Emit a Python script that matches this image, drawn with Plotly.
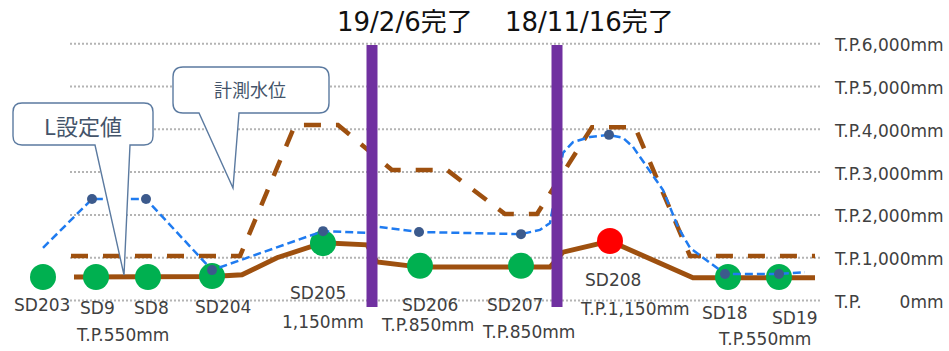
import plotly.graph_objects as go

# ---------------- data ----------------
stations = ["SD203", "SD9", "SD8", "SD204", "SD205", "SD206", "SD207", "SD208", "SD18", "SD19"]
station_x = [43, 96, 148, 212, 323, 420, 521, 610, 728, 779]
station_level = [550, 550, 550, 570, 1340, 810, 810, 1390, 550, 550]
station_alert = [False, False, False, False, False, False, False, True, False, False]

# L設定値 (solid brown)
l_x = [74, 96, 148, 212, 242, 277, 323, 367, 377, 420, 520, 550, 563, 610, 693, 728, 779, 815]
l_val = [550, 550, 550, 560, 600, 1000, 1350, 1300, 900, 780, 780, 780, 1130, 1390, 530, 530, 530, 530]

# dashed brown line
d_x = [71, 240, 295, 338, 392, 447, 505, 537, 592, 635, 690, 815]
d_val = [1040, 1040, 4100, 4100, 3050, 3050, 2020, 2020, 4050, 4050, 1040, 1040]

# 計測水位 (blue dotted)
w_x = [43, 92, 146, 212, 323, 367, 378, 419, 521, 540, 550, 563, 573, 590, 609,
       623, 633, 647, 663, 678, 690, 725, 779, 805]
w_val = [1230, 2370, 2370, 710, 1620, 1580, 1720, 1600, 1550, 1650, 1810, 3450, 3700, 3820, 3870,
         3800, 3590, 3120, 2580, 1720, 1230, 620, 620, 660]
w_mark_x = [92, 146, 212, 323, 419, 521, 609, 725, 779]
w_mark_val = [2370, 2370, 710, 1620, 1600, 1550, 3870, 620, 620]

# completion markers
completion_x = [372, 557]
completion_text = ["19/2/6完了", "18/11/16完了"]

# y ticks
tick_vals = [0, 1000, 2000, 3000, 4000, 5000, 6000]
tick_text = ["T.P.\u00a0\u00a0\u00a0\u00a0\u00a0\u00a0\u00a00mm", "T.P.1,000mm", "T.P.2,000mm",
             "T.P.3,000mm", "T.P.4,000mm", "T.P.5,000mm", "T.P.6,000mm"]

# elevation notes
note_text = ["T.P.550mm", "1,150mm", "T.P.850mm", "T.P.850mm", "T.P.1,150mm", "T.P.550mm"]

# ---------------- layout constants ----------------
W, H = 949, 351
Y0_PX = 300.5          # pixel row of 0 mm
PX_PER_MM = 0.0428
y_range = [(Y0_PX - H) / PX_PER_MM, Y0_PX / PX_PER_MM]
GRID_X0, GRID_X1 = 70, 820

station_label_pos = [(42, 305), (97, 308), (151, 308), (223, 307), (318, 293),
                     (430, 305), (515, 305), (613, 280), (725, 313), (795, 318)]
note_pos = [(122, 335), (323, 322), (427, 325), (528, 332), (635, 309), (764, 339)]

BROWN = "#9E500F"
BLUE = "#1F7BF0"
BLUE_DARK = "#3C5A8C"
FONT = "DejaVu Sans, Noto Sans CJK JP, sans-serif"
CJK = "Noto Sans CJK JP, DejaVu Sans, sans-serif"


def py(ypx):
    return 1 - ypx / H


fig = go.Figure()

fig.add_trace(go.Scatter(x=l_x, y=l_val, mode="lines", name="L設定値",
                         line=dict(color=BROWN, width=5), hoverinfo="skip"))
fig.add_trace(go.Scatter(x=d_x, y=d_val, mode="lines", name="dashed",
                         line=dict(color=BROWN, width=4.5, dash="17px,15px"), hoverinfo="skip"))
fig.add_trace(go.Scatter(x=station_x, y=station_level, mode="markers", name="stations",
                         marker=dict(size=26, color=["#FF0000" if a else "#00B050" for a in station_alert],
                                     line=dict(width=0)),
                         cliponaxis=False, hoverinfo="skip"))
fig.add_trace(go.Scatter(x=w_x, y=w_val, mode="lines", name="計測水位",
                         line=dict(color=BLUE, width=2.5, dash="8px,4px"), hoverinfo="skip"))
fig.add_trace(go.Scatter(x=w_mark_x, y=w_mark_val, mode="markers", name="計測点",
                         marker=dict(size=10, color=BLUE_DARK), hoverinfo="skip"))

shapes = []
# gridlines
for v in tick_vals:
    shapes.append(dict(type="line", xref="x", yref="y", x0=GRID_X0, x1=GRID_X1, y0=v, y1=v,
                       line=dict(color="#B4B4B4", width=2, dash="2px,2px"), layer="below"))
# completion bars
for cx in completion_x:
    shapes.append(dict(type="rect", xref="x", yref="y", x0=cx - 5.5, x1=cx + 5.5,
                       y0=-150, y1=tick_vals[-1] - 30, fillcolor="#7030A0",
                       line=dict(width=0), layer="above"))


def callout(x0, y0, x1, y1, r, tl, tr, tip):
    pts = [
        f"M {x0 + r},{py(y0)}", f"L {x1 - r},{py(y0)}", f"Q {x1},{py(y0)} {x1},{py(y0 + r)}",
        f"L {x1},{py(y1 - r)}", f"Q {x1},{py(y1)} {x1 - r},{py(y1)}",
        f"L {tr},{py(y1)}", f"L {tip[0]},{py(tip[1])}", f"L {tl},{py(y1)}",
        f"L {x0 + r},{py(y1)}", f"Q {x0},{py(y1)} {x0},{py(y1 - r)}",
        f"L {x0},{py(y0 + r)}", f"Q {x0},{py(y0)} {x0 + r},{py(y0)}", "Z",
    ]
    return dict(type="path", xref="x", yref="paper", path=" ".join(pts),
                fillcolor="white", line=dict(color="#5B7AA0", width=1.4), layer="above")


shapes.append(callout(13, 103, 153, 145, 9, 95, 130, (124, 275)))
shapes.append(callout(173, 67, 329, 113, 10, 199, 239, (233, 188)))

ann = []
for name, (lx, ly) in zip(stations, station_label_pos):
    ann.append(dict(x=lx, y=py(ly), xref="x", yref="paper", text=name, showarrow=False,
                    font=dict(family=FONT, size=17, color="#404040"), xanchor="center", yanchor="middle"))
for t, (lx, ly) in zip(note_text, note_pos):
    ann.append(dict(x=lx, y=py(ly), xref="x", yref="paper", text=t, showarrow=False,
                    font=dict(family=FONT, size=17, color="#404040"), xanchor="center", yanchor="middle"))
for v, t in zip(tick_vals, tick_text):
    ann.append(dict(x=832, y=v, xref="x", yref="y", text=t, showarrow=False, yshift=-1.5,
                    font=dict(family=FONT, size=17, color="#404040"), xanchor="left", yanchor="middle"))
for t, lx in zip(completion_text, [335, 503]):
    ann.append(dict(x=lx, y=py(22), xref="x", yref="paper", text=t, showarrow=False,
                    font=dict(family=FONT, size=26, color="#111111"), xanchor="left", yanchor="middle"))
ann.append(dict(x=83, y=py(125), xref="x", yref="paper", text="L設定値", showarrow=False,
                font=dict(family=CJK, size=22, color="#44546A"), xanchor="center", yanchor="middle"))
ann.append(dict(x=250, y=py(89), xref="x", yref="paper", text="計測水位", showarrow=False,
                font=dict(family=CJK, size=18, color="#44546A"), xanchor="center", yanchor="middle"))

fig.update_layout(
    width=W, height=H, margin=dict(l=0, r=0, t=0, b=0),
    paper_bgcolor="white", plot_bgcolor="white", showlegend=False,
    xaxis=dict(range=[0, W], visible=False, fixedrange=True),
    yaxis=dict(range=y_range, visible=False, fixedrange=True),
    shapes=shapes, annotations=ann,
)

fig.write_html("out.html", config={"displayModeBar": False},
               post_script="document.body.style.margin='0';document.body.style.overflow='hidden';")
